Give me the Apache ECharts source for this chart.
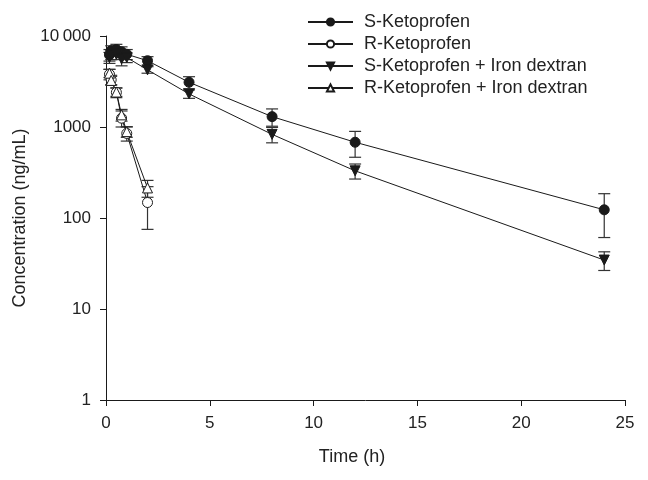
<!DOCTYPE html>
<html>
<head>
<meta charset="utf-8">
<script src="https://cdn.jsdelivr.net/npm/echarts@6/dist/echarts.min.js"></script>
<style>html,body{margin:0;padding:0;background:#fff}#c{width:648px;height:480px}</style>
</head>
<body>
<div id="c"></div>
<script>
// ---- data ----
var timesS = [0.167, 0.25, 0.5, 0.75, 1, 2, 4, 8, 12, 24];
var timesR = [0.167, 0.25, 0.5, 0.75, 1, 2];
var sKeto = [6200, 6900, 7100, 6700, 6300, 5350, 3100, 1300, 680, 123];
var sKetoSD = [900, 900, 1000, 900, 800, 580, 470, 280, 215, 62];
var rKeto = [3800, 3300, 2400, 1250, 850, 148];
var rKetoSD = [500, 400, 300, 250, 150, 73];
var sKetoFe = [5800, 6200, 6300, 5600, 5800, 4250, 2310, 830, 330, 34.5];
var sKetoFeSD = [800, 700, 800, 900, 700, 350, 245, 160, 62, 8];
var rKetoFe = [3900, 3250, 2420, 1360, 890, 214];
var rKetoFeSD = [400, 350, 250, 200, 120, 45];
var seriesNames = ['S-Ketoprofen', 'R-Ketoprofen', 'S-Ketoprofen + Iron dextran', 'R-Ketoprofen + Iron dextran'];
var xTicks = [0, 5, 10, 15, 20, 25];
var yTicks = [1, 10, 100, 1000, 10000];

var ink = '#1a1a1a';
var font = 'Liberation Sans, Arial, sans-serif';

function pts(t, v) { return t.map(function (x, i) { return [x, v[i]]; }); }
function errs(t, v, sd) {
  return t.map(function (x, i) { return [x, Math.max(v[i] - sd[i], 0.5), v[i] + sd[i]]; });
}
function errSeries(data) {
  return {
    type: 'custom',
    silent: true,
    z: 3,
    encode: { x: 0, y: [1, 2] },
    data: data,
    renderItem: function (params, api) {
      var lo = api.coord([api.value(0), api.value(1)]);
      var hi = api.coord([api.value(0), api.value(2)]);
      var w = 6;
      var st = { stroke: '#333', lineWidth: 1.2 };
      return {
        type: 'group',
        children: [
          { type: 'line', shape: { x1: lo[0], y1: lo[1], x2: hi[0], y2: hi[1] }, style: st },
          { type: 'line', shape: { x1: lo[0] - w, y1: lo[1], x2: lo[0] + w, y2: lo[1] }, style: st },
          { type: 'line', shape: { x1: hi[0] - w, y1: hi[1], x2: hi[0] + w, y2: hi[1] }, style: st }
        ]
      };
    }
  };
}
function lineSeries(name, data, symbol, filled, rotate) {
  return {
    name: name,
    type: 'line',
    data: data,
    z: 4,
    symbol: symbol,
    symbolSize: 10,
    symbolRotate: rotate || 0,
    showSymbol: true,
    lineStyle: { color: ink, width: 1 },
    itemStyle: { color: filled ? ink : '#fff', borderColor: ink, borderWidth: 1 }
  };
}

var chart = echarts.init(document.getElementById('c'), null, { renderer: 'canvas' });
chart.setOption({
  animation: false,
  backgroundColor: '#fff',
  grid: { left: 106, right: 23, top: 36, bottom: 80, containLabel: false },
  legend: {
    orient: 'vertical',
    left: 302,
    top: 8,
    itemWidth: 45,
    itemHeight: 9,
    itemGap: 4,
    data: seriesNames,
    textStyle: { fontFamily: font, fontSize: 18, color: '#222', lineHeight: 18, padding: [0, 0, 0, 6] }
  },
  xAxis: {
    type: 'value',
    min: 0, max: 25, interval: 5,
    name: 'Time (h)',
    nameLocation: 'middle',
    nameGap: 48,
    nameTextStyle: { fontFamily: font, fontSize: 18, color: '#222', padding: [0, 27, 0, 0] },
    axisLine: { show: true, lineStyle: { color: ink, width: 1 } },
    axisTick: { show: true, inside: false, length: 6, lineStyle: { color: ink } },
    axisLabel: { fontFamily: font, fontSize: 17, color: '#222', margin: 15,
      formatter: function (v) { return xTicks.indexOf(v) >= 0 ? String(v) : ''; } },
    splitLine: { show: false }
  },
  yAxis: {
    type: 'log',
    logBase: 10,
    min: 1, max: 10000,
    name: 'Concentration (ng/mL)',
    nameLocation: 'middle',
    nameGap: 74,
    nameTextStyle: { fontFamily: font, fontSize: 18, color: '#222' },
    axisLine: { show: true, lineStyle: { color: ink, width: 1 } },
    axisTick: { show: true, inside: false, length: 6, lineStyle: { color: ink } },
    axisLabel: { fontFamily: font, fontSize: 17, color: '#222', margin: 15,
      formatter: function (v) { return v === 10000 ? '10\u2009000' : (yTicks.indexOf(v) >= 0 ? String(v) : ''); } },
    splitLine: { show: false },
    minorTick: { show: false }
  },
  series: [
    errSeries(errs(timesS, sKeto, sKetoSD)),
    errSeries(errs(timesR, rKeto, rKetoSD)),
    errSeries(errs(timesS, sKetoFe, sKetoFeSD)),
    errSeries(errs(timesR, rKetoFe, rKetoFeSD)),
    lineSeries(seriesNames[0], pts(timesS, sKeto), 'circle', true),
    lineSeries(seriesNames[1], pts(timesR, rKeto), 'circle', false),
    lineSeries(seriesNames[2], pts(timesS, sKetoFe), 'triangle', true, 180),
    lineSeries(seriesNames[3], pts(timesR, rKetoFe), 'triangle', false)
  ]
});
</script>
</body>
</html>
